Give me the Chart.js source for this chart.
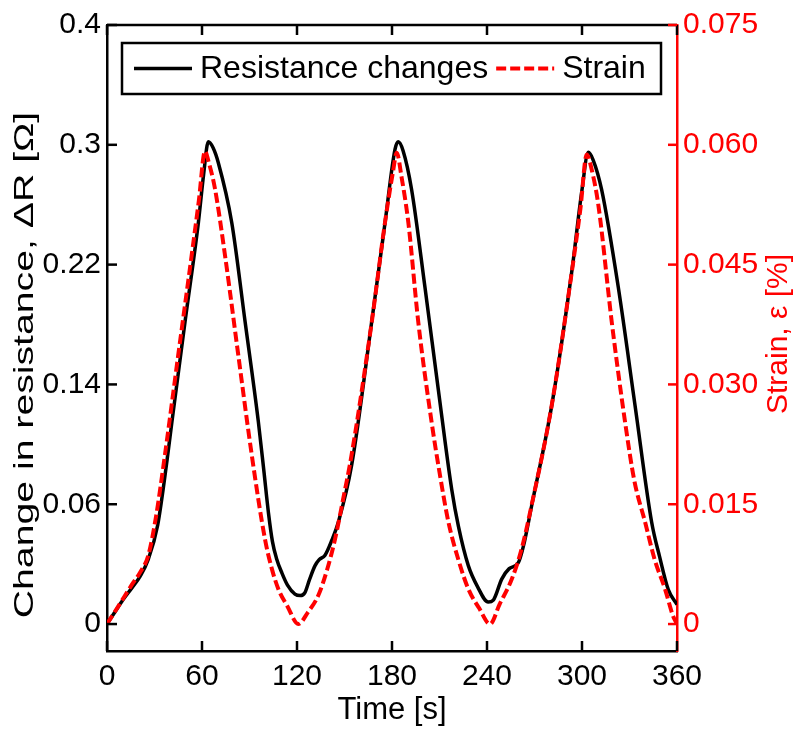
<!DOCTYPE html>
<html><head><meta charset="utf-8">
<script src="https://cdn.jsdelivr.net/npm/chart.js@4.4.1/dist/chart.umd.min.js"></script>
<style>html,body{margin:0;padding:0;background:#fff}#wrap{width:796px;height:729px}</style>
</head><body><div id="wrap"><canvas id="c" width="796" height="729"></canvas></div>
<script>
// ---- data ----
const resistanceTime = [0,5,10,15.6,21,26,32,38,41,49.3,57.7,61,64,67,70.3,78.8,87.2,95.6,99,102,104.5,107,110.5,114,118.7,122,125,128,131.4,134,137.7,142,146.1,154.5,167.2,175.6,181.9,184,187,192.4,200.8,209.2,217.7,222,228.2,234,240.8,244,249.3,254,259.8,263,268.2,280.9,293.5,300,304,307,312.4,322.9,333.5,344,349,354.5,360];
const resistance     = [0,0.008,0.016,0.024,0.032,0.043,0.066,0.11,0.135,0.202,0.268,0.3,0.322,0.318,0.308,0.268,0.202,0.135,0.103,0.074,0.055,0.044,0.034,0.026,0.02,0.019,0.021,0.03,0.039,0.043,0.046,0.056,0.068,0.106,0.202,0.268,0.317,0.322,0.316,0.29,0.225,0.157,0.09,0.065,0.039,0.025,0.0147,0.016,0.03,0.037,0.041,0.052,0.079,0.146,0.235,0.29,0.315,0.31,0.29,0.225,0.146,0.068,0.045,0.023,0.013];
const strainTime = [0,8,15.6,21,26.1,31,36.6,45,53.5,58,61.9,64,68.2,74.5,82.9,91.4,99.8,104,108.2,114,120.8,127,133.5,139,144,149,154.5,167.2,175.6,180.6,183,186,190.3,196.6,205,210,215.6,222,228.2,235,241.9,248,255.6,262,268.2,280.9,293.5,299,303,306,310.3,318.8,327.2,333,339.8,346,352.4,357.5,360];
const strain     = [0,0.0025,0.0049,0.0065,0.0086,0.0135,0.0212,0.0337,0.0462,0.053,0.0592,0.058,0.0545,0.0462,0.0337,0.0212,0.0106,0.007,0.0044,0.0022,0,0.0015,0.0036,0.0068,0.0106,0.0155,0.0212,0.0378,0.0503,0.0566,0.059,0.056,0.0503,0.0378,0.0253,0.019,0.0128,0.008,0.0044,0.002,0,0.0025,0.0056,0.0095,0.0149,0.0274,0.044,0.052,0.0588,0.057,0.0525,0.0378,0.0253,0.018,0.0128,0.008,0.0044,0.001,0];
const xTickValues = [0,60,120,180,240,300,360];
const leftTickValues = [0,0.08,0.16,0.24,0.32,0.4];
const leftTickLabels = ['0','0.06','0.14','0.22','0.3','0.4'];
const rightTickValues = [0,0.015,0.03,0.045,0.06,0.075];
const rightTickLabels = ['0','0.015','0.030','0.045','0.060','0.075'];
const seriesNames = ['Resistance changes','Strain'];
const xTitle = 'Time [s]';
const leftTitle = 'Change in resistance, \u0394R [\u03A9]';
const rightTitle = 'Strain, \u03B5 [%]';

const FONT = '"Liberation Sans", Arial, Helvetica, sans-serif';
const BLACK = '#000000', RED = '#ff0000';

const toXY = (ts, vs) => ts.map((t, i) => ({x: t, y: vs[i]}));

function drawVerticalTitle(ctx, text, cx, cy, size, stretch, color) {
  ctx.save();
  ctx.translate(cx, cy);
  ctx.rotate(-Math.PI / 2);
  ctx.scale(stretch, 1);
  ctx.fillStyle = color; ctx.font = size + 'px ' + FONT;
  ctx.textAlign = 'center'; ctx.textBaseline = 'middle';
  ctx.fillText(text, 0, 0);
  ctx.restore();
}

const framePlugin = {
  id: 'frame',
  afterDatasetsDraw(chart) {
    const ctx = chart.ctx, a = chart.chartArea;
    const xs = chart.scales.x, yl = chart.scales.y, yr = chart.scales.y2;
    ctx.save();
    // top border
    ctx.strokeStyle = BLACK; ctx.lineWidth = 2.5;
    ctx.beginPath(); ctx.moveTo(a.left, a.top); ctx.lineTo(a.right, a.top); ctx.stroke();
    // x ticks (bottom and top, inward)
    xTickValues.forEach(v => {
      const px = xs.getPixelForValue(v);
      ctx.beginPath(); ctx.moveTo(px, a.bottom); ctx.lineTo(px, a.bottom - 10);
      ctx.moveTo(px, a.top); ctx.lineTo(px, a.top + 10); ctx.stroke();
    });
    // left ticks
    leftTickValues.forEach(v => {
      const py = yl.getPixelForValue(v);
      ctx.beginPath(); ctx.moveTo(a.left, py); ctx.lineTo(a.left + 10, py); ctx.stroke();
    });
    // right ticks
    ctx.strokeStyle = RED;
    rightTickValues.forEach(v => {
      const py = yr.getPixelForValue(v);
      ctx.beginPath(); ctx.moveTo(a.right, py); ctx.lineTo(a.right - 9, py); ctx.stroke();
    });
    // legend
    const lx = a.left + 15, ly = a.top + 18, lw = 539, lh = 51;
    ctx.fillStyle = '#ffffff'; ctx.fillRect(lx, ly, lw, lh);
    ctx.strokeStyle = BLACK; ctx.lineWidth = 2.5; ctx.strokeRect(lx, ly, lw, lh);
    const midY = ly + lh / 2;
    const ds = chart.data.datasets;
    ctx.font = '32px ' + FONT; ctx.textBaseline = 'middle'; ctx.textAlign = 'left';
    let cx = lx + 12;
    ds.forEach((d) => {
      ctx.strokeStyle = d.borderColor; ctx.lineWidth = d.borderWidth;
      ctx.setLineDash(d.borderDash || []);
      ctx.beginPath(); ctx.moveTo(cx, midY); ctx.lineTo(cx + 58, midY); ctx.stroke();
      ctx.setLineDash([]);
      ctx.fillStyle = BLACK;
      ctx.fillText(d.label, cx + 66, midY + 1);
      cx += 66 + ctx.measureText(d.label).width + 8;
    });
    // axis titles (read bottom-to-top)
    drawVerticalTitle(ctx, leftTitle, 25, 365, 28, 1.4, BLACK);
    drawVerticalTitle(ctx, rightTitle, 779, (a.top + a.bottom) / 2 - 4, 30, 1.0, RED);
    ctx.restore();
  }
};

new Chart(document.getElementById('c'), {
  type: 'line',
  data: {
    datasets: [
      {label: seriesNames[0], data: toXY(resistanceTime, resistance), yAxisID: 'y',
       borderColor: BLACK, borderWidth: 3.5, pointRadius: 0, fill: false,
       cubicInterpolationMode: 'monotone', order: 2},
      {label: seriesNames[1], data: toXY(strainTime, strain), yAxisID: 'y2',
       borderColor: RED, borderWidth: 4, borderDash: [10, 4], pointRadius: 0, fill: false,
       cubicInterpolationMode: 'monotone', order: 1}
    ]
  },
  options: {
    responsive: false, animation: false, devicePixelRatio: 1,
    layout: {padding: {top: 25, right: 0, bottom: 0, left: 0}},
    plugins: {legend: {display: false}, tooltip: {enabled: false}},
    scales: {
      x: {
        type: 'linear', min: 0, max: 360,
        afterBuildTicks: s => { s.ticks = xTickValues.map(v => ({value: v})); },
        afterFit: s => { s.height = 78; },
        ticks: {color: BLACK, font: {family: FONT, size: 30}, padding: 8, maxRotation: 0},
        grid: {display: false, drawTicks: false},
        border: {display: true, color: BLACK, width: 2.5},
        title: {display: true, text: xTitle, color: BLACK, font: {family: FONT, size: 31}, padding: {top: 0, bottom: 0}}
      },
      y: {
        type: 'linear', position: 'left', min: -0.018, max: 0.4,
        afterBuildTicks: s => { s.ticks = leftTickValues.map(v => ({value: v})); },
        afterFit: s => { s.width = 107; },
        ticks: {color: BLACK, font: {family: FONT, size: 30}, padding: 6,
                callback: (v, i) => leftTickLabels[i]},
        grid: {display: false, drawTicks: false},
        border: {display: true, color: BLACK, width: 2.5}
      },
      y2: {
        type: 'linear', position: 'right', min: -0.003375, max: 0.075,
        afterBuildTicks: s => { s.ticks = rightTickValues.map(v => ({value: v})); },
        afterFit: s => { s.width = 119; },
        ticks: {color: RED, font: {family: FONT, size: 30}, padding: 6,
                callback: (v, i) => rightTickLabels[i]},
        grid: {display: false, drawTicks: false},
        border: {display: true, color: RED, width: 2.5}
      }
    }
  },
  plugins: [framePlugin]
});
</script>
</body></html>
